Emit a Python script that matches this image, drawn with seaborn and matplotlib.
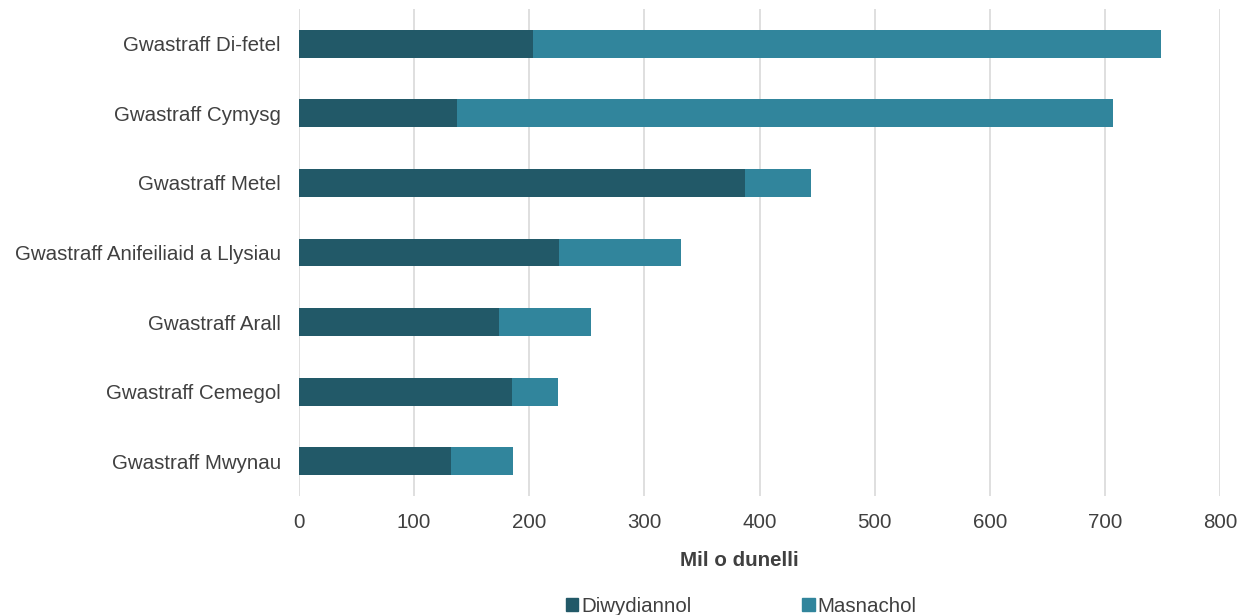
import pandas as pd
import matplotlib.pyplot as plt
import matplotlib.patches as mpatches
import seaborn as sns

categories = ['Gwastraff Di-fetel', 'Gwastraff Cymysg', 'Gwastraff Metel',
              'Gwastraff Anifeiliaid a Llysiau', 'Gwastraff Arall',
              'Gwastraff Cemegol', 'Gwastraff Mwynau']
diwydiannol = [203, 137, 387, 226, 174, 185, 132]
masnachol = [546, 570, 58, 106, 80, 40, 54]
x_ticks = [0, 100, 200, 300, 400, 500, 600, 700, 800]

DARK = '#225968'
LIGHT = '#31859c'
TEXT = '#404040'
FS = 14.8

sns.set_theme(style='white')
plt.rcParams['font.family'] = ['Liberation Sans', 'DejaVu Sans']

df = pd.DataFrame({'cat': categories, 'diw': diwydiannol, 'mas': masnachol})
df['total'] = df['diw'] + df['mas']

fig = plt.figure(figsize=(12.48, 6.15), dpi=100)
ax = fig.add_axes([299 / 1248, 1 - 496 / 615, (1220 - 299) / 1248, (496 - 9) / 615])

ax.xaxis.grid(True, color='#d9d9d9', linewidth=1.2, zorder=0)
ax.set_axisbelow(True)

# stacked: total in light, industrial part on top in dark
sns.barplot(data=df, y='cat', x='total', color=LIGHT, width=0.4, ax=ax,
            saturation=1, orient='h', zorder=2, linewidth=0)
sns.barplot(data=df, y='cat', x='diw', color=DARK, width=0.4, ax=ax,
            saturation=1, orient='h', zorder=3, linewidth=0)

ax.set_xlim(0, 800)
ax.set_xticks(x_ticks)
ax.set_xticklabels([str(t) for t in x_ticks])
ax.tick_params(axis='both', length=0, labelsize=FS, colors=TEXT)
ax.tick_params(axis='x', pad=12)
ax.tick_params(axis='y', pad=13)
ax.set_ylabel('')
ax.set_xlabel('Mil o dunelli', fontsize=FS, fontweight='bold', color=TEXT, labelpad=13)
ax.xaxis.set_label_coords((739 - 299) / 921, -0.113)
for s in ax.spines.values():
    s.set_visible(False)

handles = [mpatches.Patch(color=DARK, label='Diwydiannol'),
           mpatches.Patch(color=LIGHT, label='Masnachol')]
fig.legend(handles=handles, loc='lower center', bbox_to_anchor=(0.594, -0.032), ncol=2,
           frameon=False, fontsize=FS, handlelength=0.6, handleheight=0.6,
           handletextpad=0.15, columnspacing=5.4, labelcolor=TEXT)

plt.savefig('out.png', dpi=100)
